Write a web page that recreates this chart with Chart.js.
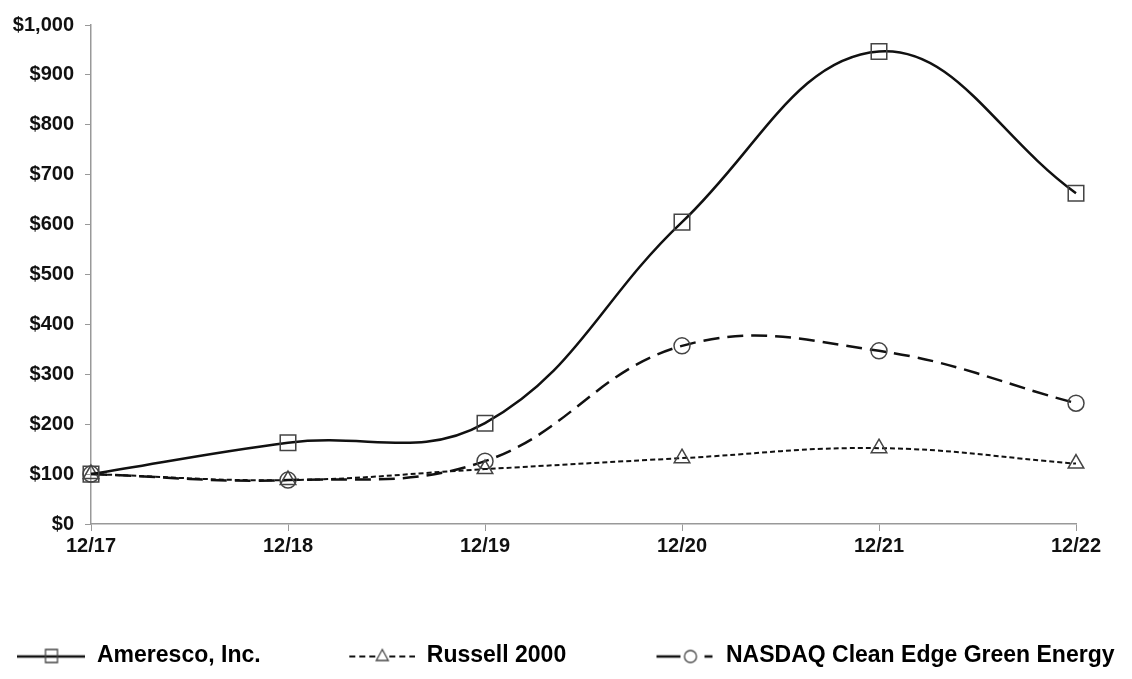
<!DOCTYPE html>
<html>
<head>
<meta charset="utf-8">
<script src="https://cdn.jsdelivr.net/npm/chart.js@4"></script>
<style>
  html, body { margin: 0; padding: 0; background: #fff; }
  #wrap { width: 1132px; height: 679px; }
</style>
</head>
<body>
<div id="wrap"><canvas id="chart"></canvas></div>
<script>
// Data
const periods = ['12/17', '12/18', '12/19', '12/20', '12/21', '12/22'];
const ameresco = [100, 163, 202, 605, 947, 663];
const russell2000 = [100, 88, 110, 132, 152, 121];
const nasdaqCleanEdge = [100, 88, 126, 357, 347, 242];
const yTicks = [0, 100, 200, 300, 400, 500, 600, 700, 800, 900, 1000];

const FONT = "'Liberation Sans', Arial, sans-serif";
const SWATCH_W = 68;

// Legend swatch: line segments (right-aligned in the box) with a marker
function makeSwatch(segments, marker, mx, width) {
    const c = document.createElement('canvas');
    c.width = SWATCH_W;
    c.height = 20;
    const ctx = c.getContext('2d');
    ctx.strokeStyle = '#111';
    ctx.lineWidth = width;
    ctx.beginPath();
    segments.forEach(([a, b]) => {
        ctx.moveTo(a, 11);
        ctx.lineTo(b, 11);
    });
    ctx.stroke();
    ctx.strokeStyle = '#444';
    ctx.lineWidth = 1.3;
    ctx.beginPath();
    if (marker === 'rect') {
        ctx.rect(mx - 6, 4, 12, 13);
    } else if (marker === 'triangle') {
        ctx.moveTo(mx, 4);
        ctx.lineTo(mx + 6, 15);
        ctx.lineTo(mx - 6, 15);
        ctx.closePath();
    } else {
        ctx.arc(mx, 11, 6, 0, Math.PI * 2);
    }
    ctx.stroke();
    return c;
}

const swatches = [
    makeSwatch([[0, 68]], 'rect', 34, 2.5),
    makeSwatch([[2, 8], [12, 18], [22, 28], [42, 48], [52, 58], [62, 68]], 'triangle', 35, 2),
    makeSwatch([[10, 34], [58, 66]], 'circle', 44, 2.5)
];
// trailing spaces on the text keep the wide gaps between legend items
const legendPad = ['            ', '           ', ''];

const ctx = document.getElementById('chart').getContext('2d');
const chart = new Chart(ctx, {
    type: 'line',
    data: {
        labels: periods,
        datasets: [
            {
                label: 'NASDAQ Clean Edge Green Energy',
                data: nasdaqCleanEdge,
                borderColor: '#111',
                borderWidth: 2.5,
                borderDash: [16, 8],
                tension: 0.4,
                pointStyle: 'circle',
                pointRadius: 8,
                pointBackgroundColor: 'rgba(255,255,255,0)',
                pointBorderColor: '#444',
                pointBorderWidth: 1.5,
                order: 3
            },
            {
                label: 'Russell 2000',
                data: russell2000,
                borderColor: '#111',
                borderWidth: 2,
                borderDash: [5, 3],
                tension: 0.4,
                pointStyle: 'triangle',
                pointRadius: 9,
                pointBackgroundColor: 'rgba(255,255,255,0)',
                pointBorderColor: '#444',
                pointBorderWidth: 1.5,
                order: 2
            },
            {
                label: 'Ameresco, Inc.',
                data: ameresco,
                borderColor: '#111',
                borderWidth: 2.5,
                tension: 0.4,
                pointStyle: 'rect',
                pointRadius: 11,
                pointBackgroundColor: 'rgba(255,255,255,0)',
                pointBorderColor: '#444',
                pointBorderWidth: 1.5,
                order: 1
            }
        ]
    },
    options: {
        responsive: true,
        maintainAspectRatio: false,
        animation: false,
        layout: {
            padding: { left: 0, right: 0, top: 25, bottom: 2 }
        },
        plugins: {
            legend: {
                position: 'bottom',
                labels: {
                    usePointStyle: true,
                    pointStyleWidth: SWATCH_W,
                    boxHeight: 20,
                    padding: 10,
                    color: '#111',
                    font: { family: FONT, size: 23, weight: 'bold' },
                    generateLabels: (chart) => {
                        const order = [2, 1, 0];
                        return order.map((i, k) => ({
                            text: chart.data.datasets[i].label + legendPad[k],
                            pointStyle: swatches[k],
                            fillStyle: '#fff',
                            strokeStyle: '#fff',
                            lineWidth: 0,
                            datasetIndex: i,
                            hidden: false
                        }));
                    }
                }
            },
            tooltip: { enabled: false }
        },
        scales: {
            x: {
                offset: false,
                grid: {
                    drawOnChartArea: false,
                    color: '#999',
                    tickLength: 7,
                    tickColor: '#999'
                },
                border: { color: '#999', width: 1.5 },
                ticks: {
                    color: '#111',
                    padding: 3,
                    maxRotation: 0,
                    font: { family: FONT, size: 20, weight: 'bold' }
                },
                afterFit: (scale) => { scale.height = 110; }
            },
            y: {
                min: 0,
                max: 1000,
                afterBuildTicks: (scale) => {
                    scale.ticks = yTicks.map(v => ({ value: v }));
                },
                grid: {
                    drawOnChartArea: false,
                    color: '#999',
                    tickLength: 6,
                    tickColor: '#999'
                },
                border: { color: '#999', width: 1.5 },
                ticks: {
                    color: '#111',
                    padding: 11,
                    font: { family: FONT, size: 20, weight: 'bold' },
                    callback: (v) => '$' + v.toLocaleString('en-US')
                },
                afterFit: (scale) => { scale.width = 91; }
            },
            // empty right-hand axis, only to keep space on the right
            yRight: {
                position: 'right',
                display: true,
                grid: { display: false },
                border: { display: false },
                ticks: { display: false },
                afterFit: (scale) => { scale.width = 56; }
            }
        }
    }
});
</script>
</body>
</html>
